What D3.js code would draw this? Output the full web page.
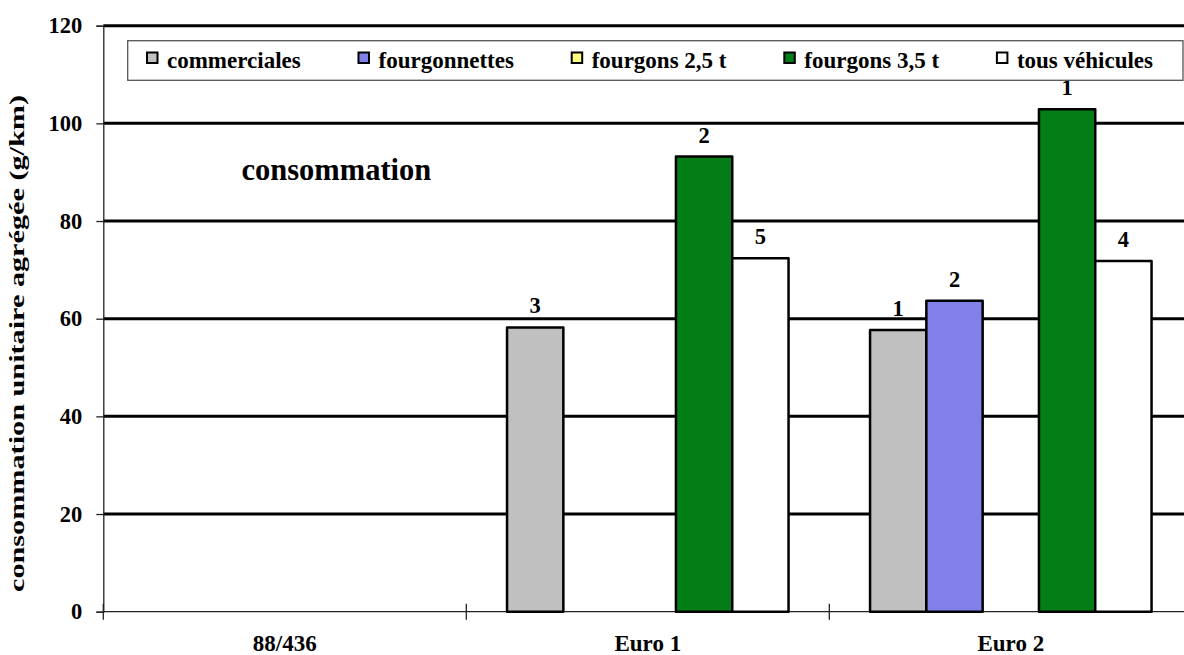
<!DOCTYPE html>
<html>
<head>
<meta charset="utf-8">
<script src="https://cdn.jsdelivr.net/npm/d3@7"></script>
<style>
  html, body { margin: 0; padding: 0; background: #fff; }
  svg { display: block; }
  svg text { font-family: "Liberation Serif", "Times New Roman", serif; font-weight: bold; fill: #000; }
</style>
</head>
<body>
<svg id="chart" width="1184" height="655"></svg>
<script>
// Emission classes on the x axis
const categories = ["88/436", "Euro 1", "Euro 2"];
// Vehicle groups (one bar per group inside each class)
const seriesNames = ["commerciales", "fourgonnettes", "fourgons 2,5 t", "fourgons 3,5 t", "tous véhicules"];
const seriesColors = ["#c0c0c0", "#8080e8", "#ffff80", "#037d16", "#ffffff"];
// Aggregated unit consumption (g/km), per group, per class
const commerciales  = [null, 58.2, 57.7];
const fourgonnettes = [null, null, 63.7];
const fourgons25    = [null, null, null];
const fourgons35    = [null, 93.2, 102.9];
const tousVehicules = [null, 72.4, 71.8];
// Number of vehicles measured, shown above each bar
const nCommerciales  = [null, 3, 1];
const nFourgonnettes = [null, null, 2];
const nFourgons25    = [null, null, null];
const nFourgons35    = [null, 2, 1];
const nTous          = [null, 5, 4];
const yTicks = [0, 20, 40, 60, 80, 100, 120];

const values = [commerciales, fourgonnettes, fourgons25, fourgons35, tousVehicules];
const counts = [nCommerciales, nFourgonnettes, nFourgons25, nFourgons35, nTous];

const FONT = "'Liberation Serif', 'Times New Roman', serif";
const svg = d3.select("#chart");
const plotLeft = 103.3, plotTop = 25.7, plotBottom = 611.7;
const catWidth = 363;
const plotRight = plotLeft + catWidth * categories.length;

const y = d3.scaleLinear().domain([0, 120]).range([plotBottom, plotTop]);
const x = d3.scaleBand().domain(categories).range([plotLeft, plotRight]).paddingInner(0).paddingOuter(0);
const xs = d3.scaleBand().domain(seriesNames).range([40.75, catWidth - 40.75]);

// horizontal gridlines
svg.append("g").selectAll("line")
  .data(yTicks.filter(t => t > 0))
  .join("line")
  .attr("x1", plotLeft).attr("x2", plotRight)
  .attr("y1", d => y(d)).attr("y2", d => y(d))
  .attr("stroke", "#000").attr("stroke-width", 3);

// y axis
const yAxis = svg.append("g").attr("transform", `translate(${plotLeft},0)`)
  .call(d3.axisLeft(y).tickValues(yTicks).tickSize(7).tickPadding(14).tickFormat(d3.format("d")));
yAxis.select(".domain").attr("stroke", "#222").attr("stroke-width", 1.3);
yAxis.selectAll(".tick line").attr("stroke", "#222").attr("stroke-width", 1.3);
yAxis.selectAll(".tick text")
  .style("font-family", FONT).style("font-weight", "bold").style("font-size", "22.5px")
  .attr("fill", "#000");

// x axis line and crossing ticks at category boundaries
svg.append("line").attr("x1", plotLeft).attr("x2", plotRight)
  .attr("y1", plotBottom).attr("y2", plotBottom)
  .attr("stroke", "#222").attr("stroke-width", 1.3);
svg.append("g").selectAll("line")
  .data(categories.concat(["_end"]))
  .join("line")
  .attr("x1", (d, i) => plotLeft + i * x.bandwidth())
  .attr("x2", (d, i) => plotLeft + i * x.bandwidth())
  .attr("y1", plotBottom - 8).attr("y2", plotBottom + 8)
  .attr("stroke", "#222").attr("stroke-width", 1.3);

// category labels
svg.append("g").selectAll("text")
  .data(categories)
  .join("text")
  .attr("x", d => x(d) + x.bandwidth() / 2)
  .attr("y", 651)
  .attr("text-anchor", "middle")
  .style("font-family", FONT).style("font-size", "23px")
  .text(d => d);

// bars
const bars = [];
seriesNames.forEach((s, si) => {
  categories.forEach((c, ci) => {
    const v = values[si][ci];
    if (v != null) bars.push({ s, si, c, v, n: counts[si][ci] });
  });
});

svg.append("g").selectAll("rect")
  .data(bars)
  .join("rect")
  .attr("x", d => x(d.c) + xs(d.s))
  .attr("width", xs.bandwidth())
  .attr("y", d => y(d.v))
  .attr("height", d => y(0) - y(d.v))
  .attr("fill", d => seriesColors[d.si])
  .attr("stroke", "#000")
  .attr("stroke-width", 2.5)
  .attr("stroke-linejoin", "round");

// sample counts above bars
svg.append("g").selectAll("text")
  .data(bars)
  .join("text")
  .attr("x", d => x(d.c) + xs(d.s) + xs.bandwidth() / 2)
  .attr("y", d => y(d.v) - 14)
  .attr("text-anchor", "middle")
  .style("font-family", FONT).style("font-size", "22.5px")
  .text(d => d.n);

// in-plot title
svg.append("text").attr("x", 241.5).attr("y", 179.5)
  .style("font-family", FONT).style("font-size", "30.5px")
  .text("consommation");

// y axis title (stretched along its length)
svg.append("text")
  .attr("transform", "translate(24,343.5) rotate(-90)")
  .attr("text-anchor", "middle")
  .attr("textLength", 497)
  .attr("lengthAdjust", "spacingAndGlyphs")
  .style("font-family", FONT).style("font-size", "21px")
  .text("consommation unitaire agrégée (g/km)");

// legend
const legend = svg.append("g");
legend.append("rect").attr("x", 127.7).attr("y", 40.7).attr("width", 1183 - 127.7).attr("height", 39.6)
  .attr("fill", "#fff").attr("stroke", "#555").attr("stroke-width", 1.3);
const items = legend.selectAll("g.item").data(seriesNames).join("g").attr("class", "item");
items.append("rect").attr("class", "sw").attr("width", 10.5).attr("height", 10.5).attr("y", 52.5)
  .attr("fill", (d, i) => seriesColors[i]).attr("stroke", "#000").attr("stroke-width", 2);
items.append("text").attr("y", 68)
  .style("font-family", FONT).style("font-size", "23px")
  .text(d => d);
// spread legend entries evenly between the box margins
const widths = [];
items.select("text").each(function () { widths.push(this.getComputedTextLength() + 20); });
const startX = 147, endX = 1153;
const gap = (endX - startX - d3.sum(widths)) / (seriesNames.length - 1);
let cx = startX;
items.each(function (d, i) {
  d3.select(this).select("rect.sw").attr("x", cx);
  d3.select(this).select("text").attr("x", cx + 20);
  cx += widths[i] + gap;
});
</script>
</body>
</html>
